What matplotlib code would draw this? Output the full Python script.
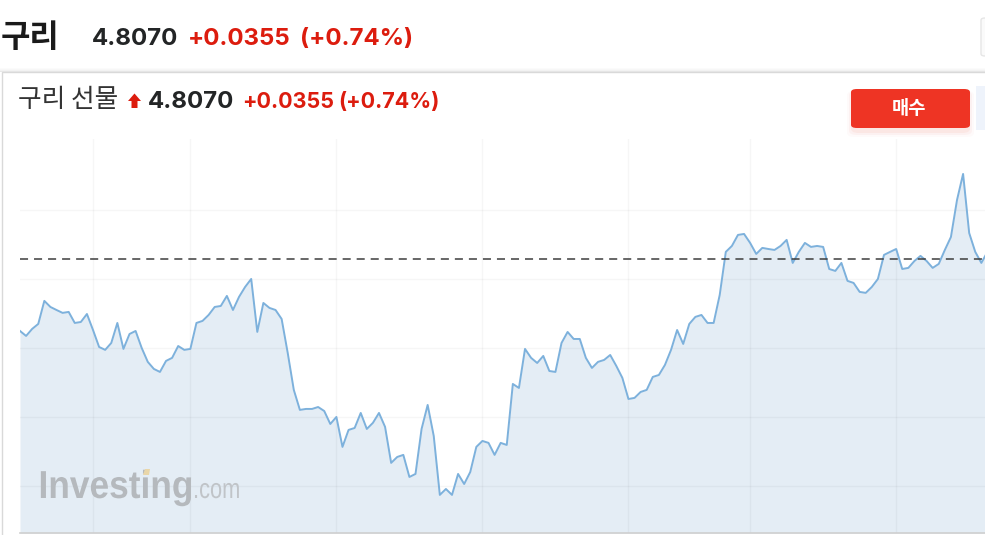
import matplotlib
matplotlib.use('Agg')
import matplotlib.pyplot as plt
from matplotlib.patches import FancyBboxPatch, Polygon, Rectangle, PathPatch
from matplotlib.textpath import TextPath
from matplotlib.font_manager import FontProperties
from matplotlib.transforms import Affine2D

W, H = 985, 535

# copper futures, one point per interval
prices = [
    4.7123, 4.7087, 4.7138, 4.7174, 4.7341, 4.7297, 4.7275, 4.7254, 4.7261, 4.7181,
    4.7188, 4.7246, 4.7130, 4.7007, 4.6986, 4.7036, 4.7181, 4.6993, 4.7101, 4.7123,
    4.7000, 4.6899, 4.6848, 4.6826, 4.6906, 4.6928, 4.7014, 4.6986, 4.6993, 4.7181,
    4.7196, 4.7239, 4.7297, 4.7304, 4.7377, 4.7275, 4.7370, 4.7442, 4.7500, 4.7116,
    4.7326, 4.7290, 4.7275, 4.7210, 4.6964, 4.6696, 4.6551, 4.6558, 4.6558, 4.6572,
    4.6543, 4.6449, 4.6500, 4.6283, 4.6406, 4.6420, 4.6529, 4.6413, 4.6457, 4.6529,
    4.6428, 4.6167, 4.6210, 4.6225, 4.6065, 4.6087, 4.6413, 4.6587, 4.6362, 4.5935,
    4.5978, 4.5935, 4.6087, 4.6014, 4.6101, 4.6283, 4.6326, 4.6312, 4.6225, 4.6312,
    4.6297, 4.6739, 4.6710, 4.6993, 4.6928, 4.6891, 4.6942, 4.6833, 4.6826, 4.7036,
    4.7116, 4.7065, 4.7065, 4.6928, 4.6855, 4.6899, 4.6913, 4.6949, 4.6870, 4.6783,
    4.6630, 4.6638, 4.6681, 4.6696, 4.6790, 4.6804, 4.6877, 4.6986, 4.7130, 4.7029,
    4.7174, 4.7225, 4.7239, 4.7181, 4.7181, 4.7384, 4.7696, 4.7739, 4.7819, 4.7826,
    4.7761, 4.7681, 4.7725, 4.7717, 4.7710, 4.7739, 4.7783, 4.7616, 4.7696, 4.7761,
    4.7732, 4.7739, 4.7732, 4.7572, 4.7558, 4.7616, 4.7486, 4.7471, 4.7406, 4.7399,
    4.7442, 4.7500, 4.7674, 4.7696, 4.7717, 4.7572, 4.7580, 4.7630, 4.7667, 4.7630,
    4.7580, 4.7609, 4.7710, 4.7804, 4.8072, 4.8261, 4.7833, 4.7696, 4.7616, 4.7696,
]
ref_line = 4.7645
grid_levels = [4.60, 4.65, 4.70, 4.75, 4.80]
session_breaks = [12, 28, 52, 76, 100, 120, 144]
y_range = (4.5659, 4.8514)

title = '구리'
name = '구리 선물'
last = '4.8070'
change = '+0.0355'
change_pct = '(+0.74%)'
button = '매수'

RED = '#DC1C0E'
DARK = '#232526'
KR = ['Noto Sans CJK KR', 'DejaVu Sans']
NUM = ['Inter', 'Noto Sans CJK KR', 'DejaVu Sans']

plt.rcParams['lines.scale_dashes'] = False

fig = plt.figure(figsize=(W / 100, H / 100), dpi=100)
fig.patch.set_facecolor('white')


def fx(x):
    return x / W


def fy(y):
    return 1 - y / H


def squeezed(txt, px, py, size, sx, weight, color):
    # text drawn as a path so it can be narrowed like the logo
    tp = TextPath((0, 0), txt, size=size,
                  prop=FontProperties(family='Liberation Sans', weight=weight))
    tr = Affine2D().scale(sx, 1).translate(px, H - py)
    fig.add_artist(PathPatch(tp, transform=tr, facecolor=color, lw=0, zorder=3))


# card with soft top shadow
for i, a in enumerate([0.09, 0.05, 0.03, 0.015]):
    fig.add_artist(Rectangle((fx(0), fy(72 - i)), 1, 1 / H, transform=fig.transFigure,
                             facecolor='#000000', alpha=a, lw=0, zorder=-2))
fig.add_artist(Rectangle((fx(2), fy(540)), 1.1, (540 - 72) / H, transform=fig.transFigure,
                         facecolor='white', edgecolor='#D9D9D9', lw=1, zorder=-1))

# partial element top right
fig.add_artist(FancyBboxPatch((fx(981), fy(56)), 0.05, 38 / H, transform=fig.transFigure,
                              boxstyle='round,pad=0,rounding_size=0.004',
                              facecolor='#FAFAFA', edgecolor='#E6E6E6', lw=1, zorder=-1))
fig.add_artist(Rectangle((fx(976), fy(130)), 0.02, 44 / H, transform=fig.transFigure,
                         facecolor='#EEF3FB', lw=0, zorder=-1))

# chart
ax = fig.add_axes([fx(20), fy(533), fx(985) - fx(20), (533 - 139) / H])
ax.set_zorder(1)
x = list(range(len(prices)))
ax.fill_between(x, prices, y_range[0], color='#E4EDF5', lw=0, zorder=1)
for lv in grid_levels:
    ax.axhline(lv, color='#000000', alpha=0.035, lw=1, zorder=2)
for b in session_breaks:
    ax.axvline(b, color='#000000', alpha=0.035, lw=1, zorder=2)
ax.plot(x, prices, color='#7DB1DC', lw=1.4, zorder=3, solid_joinstyle='round')
ax.axhline(ref_line, color='#3D3D3D', lw=1.1, dashes=(5.8, 4.3), zorder=4)
ax.set_xlim(0, 158.6)
ax.set_ylim(*y_range)
ax.set_xticks([])
ax.set_yticks([])
for s in ['top', 'left', 'right']:
    ax.spines[s].set_visible(False)
ax.spines['bottom'].set_color('#CFCFCF')
ax.spines['bottom'].set_linewidth(1.2)
ax.patch.set_alpha(0)

# header row
fig.text(fx(1), fy(47), title, fontsize=23, weight='bold', color='#1A1A1A', family=KR, va='baseline')
fig.text(fx(92), fy(45), last, fontsize=17.3, weight='bold', color=DARK, family=NUM, va='baseline')
fig.text(fx(188), fy(45), change, fontsize=17.3, weight='bold', color=RED, family=NUM, va='baseline')
fig.text(fx(300), fy(45), change_pct, fontsize=17.3, weight='bold', color=RED, family=NUM, va='baseline')

# card row
fig.text(fx(18), fy(107), name, fontsize=18.5, color='#333333', family=KR, va='baseline')
arrow = [(128, 101), (134.5, 93.5), (141, 101), (137.5, 101), (137.5, 108),
         (131.5, 108), (131.5, 101)]
fig.add_artist(Polygon([(fx(px), fy(py)) for px, py in arrow], closed=True,
                       transform=fig.transFigure, facecolor=RED, lw=0))
fig.text(fx(148), fy(108), last, fontsize=17.3, weight='bold', color=DARK, family=NUM, va='baseline')
fig.text(fx(242), fy(108), change, fontsize=15.5, weight='bold', color=RED, family=NUM, va='baseline')
fig.text(fx(338), fy(108), change_pct, fontsize=15.5, weight='bold', color=RED, family=NUM, va='baseline')

# buy button
for i, a in enumerate([0.10, 0.07, 0.04]):
    fig.add_artist(FancyBboxPatch((fx(851 - i * 2), fy(133 + i * 2)), (119 + i * 4) / W, (42 + i * 2) / H,
                                  transform=fig.transFigure,
                                  boxstyle='round,pad=0,rounding_size=0.008',
                                  facecolor='#F08A80', alpha=a, lw=0, zorder=2))
fig.add_artist(FancyBboxPatch((fx(851), fy(128)), 119 / W, 39 / H, transform=fig.transFigure,
                              boxstyle='round,pad=0,rounding_size=0.006',
                              facecolor='#EE3424', lw=0, zorder=2))
fig.text(fx(909), fy(108.5), button, fontsize=13.5, weight='bold', color='white', family=KR,
         ha='center', va='center', zorder=3)

# watermark
squeezed('Investing', 38.5, 498, 39, 0.905, 'bold', '#B5B9BD')
squeezed('.com', 193, 498, 28, 0.78, 'normal', '#C0C4C8')
fig.add_artist(Polygon([(fx(143), fy(475)), (fx(145), fy(469)), (fx(150), fy(469)), (fx(149), fy(475))],
                       closed=True, transform=fig.transFigure, facecolor='#E9D6A8', lw=0, zorder=4))

fig.savefig('out.png', dpi=100)
